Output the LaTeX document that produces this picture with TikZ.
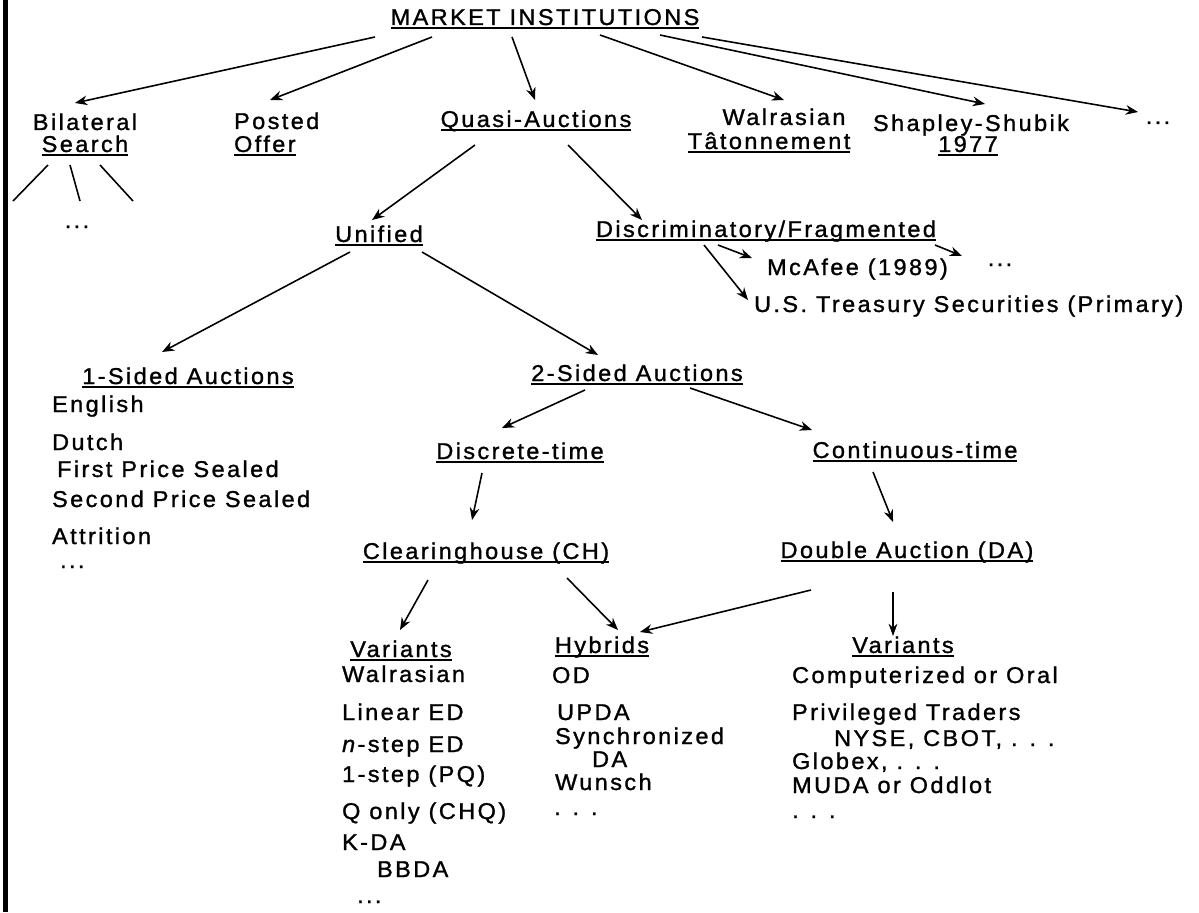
\documentclass[tikz,border=0pt]{standalone}
\usepackage{fontspec}
\setmainfont{Liberation Sans}[FakeStretch=1.03,LetterSpace=10.5,FakeBold=1.2]
\usetikzlibrary{arrows.meta}
\newcommand\ulbox[1]{\setbox0=\hbox{#1}\rlap{\rule[-2pt]{\wd0}{0.8pt}}\box0}

\begin{document}
\begin{tikzpicture}[x=0.02cm,y=-0.02cm,
    every node/.style={font=\fontsize{13}{15}\selectfont,inner sep=1pt,anchor=base},
    item/.style={anchor=base west},
    arr/.style={-{Stealth[length=7pt,width=5.5pt]},line width=0.9pt}]
  \useasboundingbox (0,0) rectangle (1199,912);
  \fill (3,0) rectangle (8,912);
  % top level
  \node (mi)   at (545,25)  {\ulbox{MARKET INSTITUTIONS}};
  \node (bilA) at (85,130)  {Bilateral};
  \node (bilB) at (85,152)  {\ulbox{Search}};
  \node[item] (posA) at (232,129) {Posted};
  \node[item] (posB) at (232,152) {\ulbox{Offer}};
  \node (qa)   at (536,127) {\ulbox{Quasi-Auctions}};
  \node (walA) at (784,125) {Walrasian};
  \node (walB) at (769,149) {\ulbox{Tâtonnement}};
  \node (shsA) at (971,131) {Shapley-Shubik};
  \node (shsB) at (968,152) {\ulbox{1977}};
  \node (etcA) at (1158,124) {...};
  \node (etcB) at (77,228)  {...};
  \draw[arr] ([shift={(-170,12)}]mi.base) -- ([shift={(-10,-27)}]bilA.base);
  \draw[arr] ([shift={(-113,12)}]mi.base) -- ([shift={(38,-29)}]posA.base west);
  \draw[arr] ([shift={(-33,12)}]mi.base)  -- ([shift={(-1,-27)}]qa.base);
  \draw[arr] ([shift={(55,10)}]mi.base)   -- ([shift={(0,-25)}]walA.base);
  \draw[arr] ([shift={(115,10)}]mi.base)  -- ([shift={(14,-27)}]shsA.base);
  \draw[arr] ([shift={(157,12)}]mi.base)  -- ([shift={(-20,-12)}]etcA.base);
  \draw[line width=0.9pt] ([shift={(-37,13)}]bilB.base) -- ++(-35,36);
  \draw[line width=0.9pt] ([shift={(-15,13)}]bilB.base) -- ++(10,36);
  \draw[line width=0.9pt] ([shift={(15,13)}]bilB.base)  -- ++(33,36);
  % quasi-auctions
  \node (uni) at (379,242) {\ulbox{Unified}};
  \node (dis) at (766,237) {\ulbox{Discriminatory/Fragmented}};
  \node[item] (mca) at (765,275) {McAfee (1989)};
  \node (etcC) at (1000,266) {...};
  \node[item] (ust) at (752,312) {U.S. Treasury Securities (Primary)};
  \draw[arr] ([shift={(-61,18)}]qa.base) -- ([shift={(-7,-22)}]uni.base);
  \draw[arr] ([shift={(32,18)}]qa.base)  -- ([shift={(-124,-17)}]dis.base);
  \draw[arr] ([shift={(-48,8)}]dis.base) -- ([shift={(-13,-17)}]mca.base west);
  \draw[arr] ([shift={(169,8)}]dis.base) -- ([shift={(-38,-10)}]etcC.base);
  \draw[arr] ([shift={(-62,8)}]dis.base) -- ([shift={(-4,-12)}]ust.base west);
  % unified
  \node (one) at (188,384) {\ulbox{1-Sided Auctions}};
  \node (two) at (637,381) {\ulbox{2-Sided Auctions}};
  \draw[arr] ([shift={(-29,10)}]uni.base) -- ([shift={(-26,-32)}]one.base);
  \draw[arr] ([shift={(43,10)}]uni.base)  -- ([shift={(-39,-26)}]two.base);
  \node[item] (eng)  at (50,412) {English};
  \node[item] (dut)  at (50,450) {Dutch};
  \node[item] (fps)  at (55,477) {First Price Sealed};
  \node[item] (sps)  at (50,507) {Second Price Sealed};
  \node[item] (att)  at (50,544) {Attrition};
  \node[item] (etcD) at (58,568) {...};
  % 2-sided
  \node (disc) at (520,459) {\ulbox{Discrete-time}};
  \node (con)  at (915,458) {\ulbox{Continuous-time}};
  \node (ch)   at (486,559) {\ulbox{Clearinghouse (CH)}};
  \node (da)   at (907,558) {\ulbox{Double Auction (DA)}};
  \draw[arr] ([shift={(-52,9)}]two.base)  -- ([shift={(-18,-31)}]disc.base);
  \draw[arr] ([shift={(53,7)}]two.base)   -- ([shift={(-103,-28)}]con.base);
  \draw[arr] ([shift={(-38,14)}]disc.base) -- ([shift={(-14,-39)}]ch.base);
  \draw[arr] ([shift={(-42,14)}]con.base)  -- ([shift={(-14,-36)}]da.base);
  \node (varL) at (401,657) {\ulbox{Variants}};
  \node (hyb)  at (602,653) {\ulbox{Hybrids}};
  \node (varR) at (903,653) {\ulbox{Variants}};
  \draw[arr] ([shift={(-58,21)}]ch.base) -- ([shift={(-1,-27)}]varL.base);
  \draw[arr] ([shift={(81,19)}]ch.base)  -- ([shift={(16,-23)}]hyb.base);
  \draw[arr] ([shift={(-96,32)}]da.base) -- ([shift={(38,-21)}]hyb.base);
  \draw[-{Stealth[length=7pt,width=5pt]},line width=0.6pt] ([shift={(-14,34)}]da.base) -- ([shift={(-10,-17)}]varR.base);
  % clearinghouse variants
  \node[item] (cv1) at (340,682) {Walrasian};
  \node[item] (cv2) at (340,720) {Linear ED};
  \node[item] (cv3) at (340,752) {\textit{n}-step ED};
  \node[item] (cv4) at (340,782) {1-step (PQ)};
  \node[item] (cv5) at (340,819) {Q only (CHQ)};
  \node[item] (cv6) at (340,850) {K-DA};
  \node[item] (cv7) at (375,877) {BBDA};
  \node[item] (cv8) at (355,903) {...};
  % hybrids
  \node[item] (hy1) at (550,683) {OD};
  \node[item] (hy2) at (555,720) {UPDA};
  \node[item] (hy3) at (553,744) {Synchronized};
  \node[item] (hy4) at (590,767) {DA};
  \node[item] (hy5) at (553,790) {Wunsch};
  \node[item] (hy6) at (552,815) {. . .};
  % double auction variants
  \node[item] (dv1) at (790,683) {Computerized or Oral};
  \node[item] (dv2) at (790,720) {Privileged Traders};
  \node[item] (dv3) at (832,746) {NYSE, CBOT, . . .};
  \node[item] (dv4) at (790,769) {Globex, . . .};
  \node[item] (dv5) at (790,793) {MUDA or Oddlot};
  \node[item] (dv6) at (790,818) {. . .};
\end{tikzpicture}
\end{document}
